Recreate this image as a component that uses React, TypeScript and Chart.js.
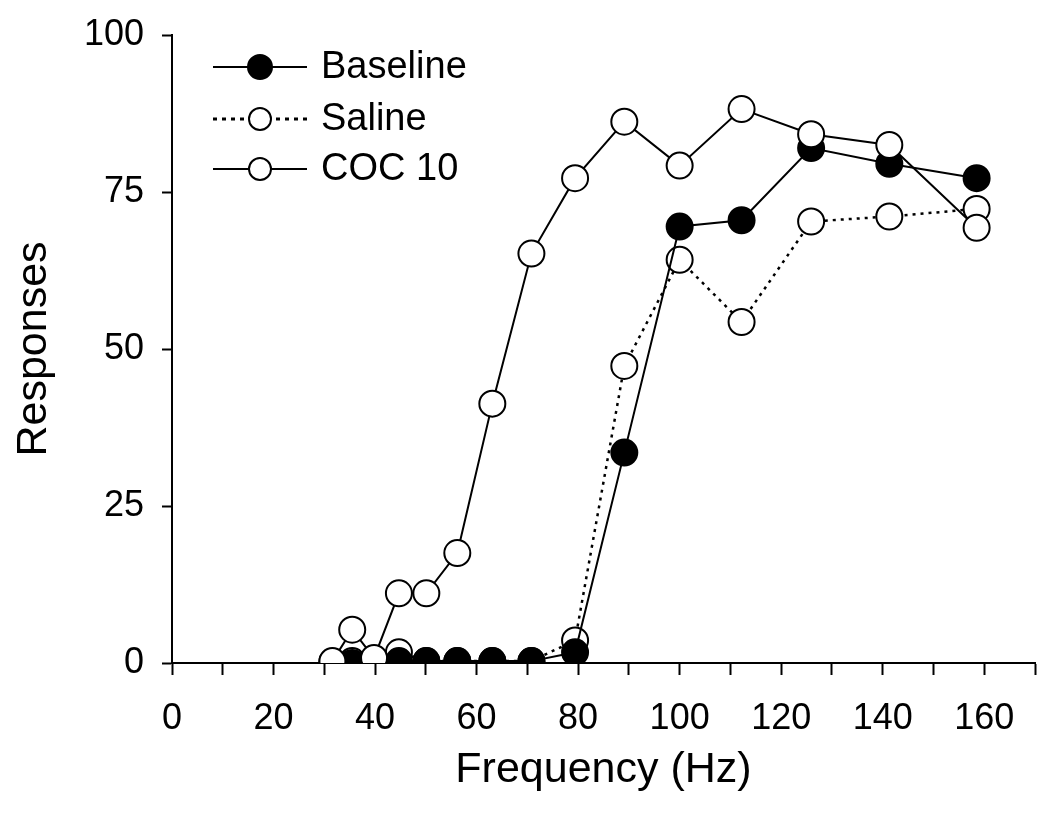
import React, { useEffect, useRef } from "react";
import { Chart, registerables } from "chart.js";

Chart.register(...registerables);

const frequencies = [31.6, 35.5, 39.8, 44.7, 50.1, 56.2, 63.1, 70.8, 79.4, 89.1, 100, 112.2, 125.9, 141.3, 158.5];
const baseline = [null, 0, 0.2, 0.3, 0.3, 0.3, 0.3, 0.3, 1.7, 33.5, 69.5, 70.5, 82, 79.5, 77.2];
const saline = [0.2, 0.3, 0.5, 1.7, 0.3, 0.3, 0.3, 0.3, 3.6, 47.3, 64.2, 54.3, 70.3, 71.1, 72.3];
const coc10 = [0.3, 5.3, 0.8, 11.1, 11.1, 17.5, 41.3, 65.2, 77.2, 86.2, 79.2, 88.2, 84.2, 82.5, 69.3];
const seriesNames = ["Baseline", "Saline", "COC 10"];
const xTitle = "Frequency (Hz)";
const yTitle = "Responses";

const FONT = "'Liberation Sans', Arial, sans-serif";

const toPoints = (ys: (number | null)[]) =>
  frequencies.map((x, i) => ({ x, y: ys[i] })).filter((p) => p.y !== null);

const legendPlugin = {
  id: "customLegend",
  afterDatasetsDraw(chart: any) {
    const ctx = chart.ctx;
    const rows = [
      { name: seriesNames[0], fill: "#000", dash: [] as number[] },
      { name: seriesNames[1], fill: "#fff", dash: [4, 5] },
      { name: seriesNames[2], fill: "#fff", dash: [] as number[] },
    ];
    const x0 = 213, x1 = 307, cx = 260;
    const ys = [67, 119, 169];
    ctx.save();
    rows.forEach((r, i) => {
      const y = ys[i];
      ctx.strokeStyle = "#000";
      ctx.lineWidth = r.dash.length ? 3 : 2;
      ctx.setLineDash(r.dash);
      ctx.beginPath();
      ctx.moveTo(x0, y);
      ctx.lineTo(x1, y);
      ctx.stroke();
      ctx.setLineDash([]);
      ctx.lineWidth = 2;
      ctx.beginPath();
      ctx.arc(cx, y, i === 0 ? 12 : 11, 0, Math.PI * 2);
      ctx.fillStyle = r.fill;
      ctx.fill();
      ctx.stroke();
      ctx.fillStyle = "#000";
      ctx.font = `38px ${FONT}`;
      ctx.textBaseline = "middle";
      ctx.textAlign = "left";
      ctx.fillText(r.name, 321, y + 1);
    });
    ctx.restore();
  },
};

export default function App() {
  const ref = useRef<HTMLCanvasElement | null>(null);
  useEffect(() => {
    if (!ref.current) return;
    const common = {
      showLine: true,
      borderColor: "#000",
      pointBorderColor: "#000",
      pointRadius: 13,
      pointBorderWidth: 2,
      pointHoverRadius: 13,
    };
    const chart = new Chart(ref.current, {
      type: "scatter",
      data: {
        datasets: [
          {
            ...common,
            label: seriesNames[2],
            data: toPoints(coc10),
            borderWidth: 2,
            pointBackgroundColor: "#fff",
            order: 0,
          },
          {
            ...common,
            label: seriesNames[0],
            data: toPoints(baseline),
            borderWidth: 2,
            pointBackgroundColor: "#000",
            order: 1,
          },
          {
            ...common,
            label: seriesNames[1],
            data: toPoints(saline),
            borderWidth: 2.5,
            borderDash: [3, 5],
            pointBackgroundColor: "#fff",
            order: 2,
          },
        ] as any,
      },
      options: {
        responsive: false,
        animation: false,
        devicePixelRatio: 1,
        layout: { padding: { top: 35, right: 7, left: 0, bottom: 0 } },
        plugins: { legend: { display: false }, tooltip: { enabled: false } },
        scales: {
          x: {
            type: "linear",
            min: 0,
            max: 170,
            afterFit: (s: any) => {
              s.height = 151;
              s.paddingLeft = 0;
              s.paddingRight = 0;
            },
            border: { display: true, color: "#000", width: 2 },
            grid: {
              display: true,
              drawOnChartArea: false,
              drawTicks: true,
              tickLength: 12,
              tickColor: "#000",
              tickWidth: 2,
            },
            ticks: {
              stepSize: 10,
              color: "#000",
              font: { family: FONT, size: 36 },
              padding: 22,
              maxRotation: 0,
              autoSkip: false,
              callback: (v: any) => (Number(v) % 20 === 0 ? String(v) : ""),
            },
            title: {
              display: true,
              text: xTitle,
              color: "#000",
              font: { family: FONT, size: 43 },
              padding: { top: 0, bottom: 18 },
            },
          },
          y: {
            type: "linear",
            min: 0,
            max: 100,
            afterFit: (s: any) => {
              s.width = 172;
              s.paddingTop = 0;
              s.paddingBottom = 0;
            },
            border: { display: true, color: "#000", width: 2 },
            grid: {
              display: true,
              drawOnChartArea: false,
              drawTicks: true,
              tickLength: 10,
              tickColor: "#000",
              tickWidth: 2,
            },
            ticks: {
              stepSize: 25,
              color: "#000",
              font: { family: FONT, size: 36 },
              padding: 18,
            },
            title: {
              display: true,
              text: yTitle,
              color: "#000",
              font: { family: FONT, size: 43 },
              padding: { top: 8, bottom: 0 },
            },
          },
        },
      } as any,
      plugins: [legendPlugin],
    });
    return () => chart.destroy();
  }, []);
  return (
    <div style={{ position: "fixed", left: 0, top: 0, width: 1050, height: 814, background: "#fff" }}>
      <canvas ref={ref} width={1050} height={814} style={{ display: "block" }} />
    </div>
  );
}
